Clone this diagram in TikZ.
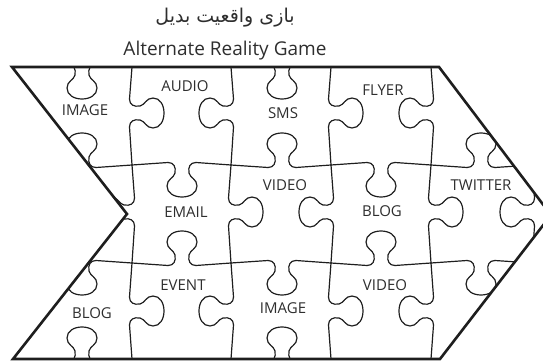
\documentclass[tikz,border=0pt]{standalone}
\usepackage{fontspec}
\setmainfont{Open Sans}
\newfontfamily\farsifont[Script=Arabic]{DejaVu Sans}
\TeXXeTstate=1
\usepackage{tikz}

\definecolor{inkline}{HTML}{1E1E1E}
\definecolor{inktext}{HTML}{2E2E2E}

% one knob, local (u,v): u along the seam, v towards the knob
\newcommand{\hknob}[3]{%
  \begin{scope}[shift={(#1,#2)},yscale=#3]
    \draw[piece] (-14,-2.5) .. controls (-8,-2.5) and (-6,2) .. (-7,8)
      .. controls (-8,13) and (-15,14) .. (-15,21)
      .. controls (-15,28) and (-8,32) .. (0,32)
      .. controls (8,32) and (15,28) .. (15,21)
      .. controls (15,14) and (8,13) .. (7,8)
      .. controls (6,2) and (8,-2.5) .. (14,-2.5);
  \end{scope}}
\newcommand{\vknob}[3]{%
  \begin{scope}[shift={(#1,#2)},xscale=#3]
    \draw[piece] (-2.5,-14) .. controls (-2.5,-8) and (2,-6) .. (8,-7)
      .. controls (13,-8) and (14,-15) .. (21,-15)
      .. controls (28,-15) and (32,-8) .. (32,0)
      .. controls (32,8) and (28,15) .. (21,15)
      .. controls (14,15) and (13,8) .. (8,7)
      .. controls (2,6) and (-2.5,8) .. (-2.5,14);
  \end{scope}}
% seam with a knob: from, to, knob centre, fixed coordinate, direction
\newcommand{\hseam}[5]{%
  \draw[piece] (#1,#4) -- ({#3-14},{#4-2.5*#5});
  \draw[piece] ({#3+14},{#4-2.5*#5}) -- (#2,#4);
  \hknob{#3}{#4}{#5}}
\newcommand{\vseam}[5]{%
  \draw[piece] (#4,#1) -- ({#4-2.5*#5},{#3-14});
  \draw[piece] ({#4-2.5*#5},{#3+14}) -- (#4,#2);
  \vknob{#4}{#3}{#5}}

\begin{document}
\begin{tikzpicture}[x=1pt,y=-1pt,
  piece/.style={draw=inkline,line width=1.2pt,line cap=round,line join=round},
  rim/.style={draw=inkline,line width=2.6pt},
  lbl/.style={anchor=base,text=inktext,font=\fontsize{15}{18}\selectfont}]
\useasboundingbox (0,0) rectangle (543,361);
% title
\node[anchor=base,text=inktext,font=\farsifont\fontsize{19}{23}\selectfont] (fa) at (225,23) {\beginR بازی واقعیت بدیل\endR};
\node[anchor=base,text=inktext,font=\fontsize{19}{23}\selectfont] (en) at (225,55.5) {Alternate Reality Game};
% puzzle seams, clipped to the arrow
\begin{scope}
\clip (12,67) -- (439,67) -- (551,215) -- (440,359) -- (13,359) -- (127,214) -- cycle;
% knobs on the top and bottom rim
\hknob{82}{67}{1}
\hknob{282}{67}{1}
\hknob{82}{359}{-1}
\hknob{282}{359}{-1}
% row seams
\hseam{32}{132}{82}{165}{-1}
\hseam{132}{231}{182}{165}{1}
\hseam{231}{331}{282}{165}{-1}
\hseam{331}{431}{381}{165}{1}
\hseam{431}{532}{481}{165}{-1}
\hseam{32}{132}{82}{263}{1}
\hseam{132}{231}{182}{263}{-1}
\hseam{231}{331}{282}{263}{1}
\hseam{331}{431}{381}{263}{-1}
\hseam{431}{532}{481}{263}{1}
% column seams
\vseam{67}{165}{113}{132}{1}
\vseam{165}{263}{212}{132}{-1}
\vseam{263}{359}{311}{132}{1}
\vseam{67}{165}{113}{231}{-1}
\vseam{165}{263}{212}{231}{1}
\vseam{263}{359}{311}{231}{-1}
\vseam{67}{165}{113}{331}{1}
\vseam{165}{263}{212}{331}{-1}
\vseam{263}{359}{311}{331}{1}
\vseam{67}{165}{113}{431}{-1}
\vseam{165}{263}{212}{431}{1}
\vseam{263}{359}{311}{431}{-1}
\vseam{165}{263}{212}{532}{-1}
\end{scope}
% arrow outline
\draw[rim] (12,67) -- (439,67) -- (551,215) -- (440,359) -- (13,359) -- (127,214) -- cycle;
% piece labels
\node[lbl] (image1) at (85,115) {IMAGE};
\node[lbl] (audio) at (185,92) {AUDIO};
\node[lbl] (sms) at (283,118) {SMS};
\node[lbl] (flyer) at (383,95) {FLYER};
\node[lbl] (email) at (186,217) {EMAIL};
\node[lbl] (video1) at (285,190) {VIDEO};
\node[lbl] (blog1) at (382,216) {BLOG};
\node[lbl] (twitter) at (481,190) {TWITTER};
\node[lbl] (blog2) at (92,318) {BLOG};
\node[lbl] (event) at (183,290) {EVENT};
\node[lbl] (image2) at (283,313) {IMAGE};
\node[lbl] (video2) at (385,290) {VIDEO};
\end{tikzpicture}
\end{document}
